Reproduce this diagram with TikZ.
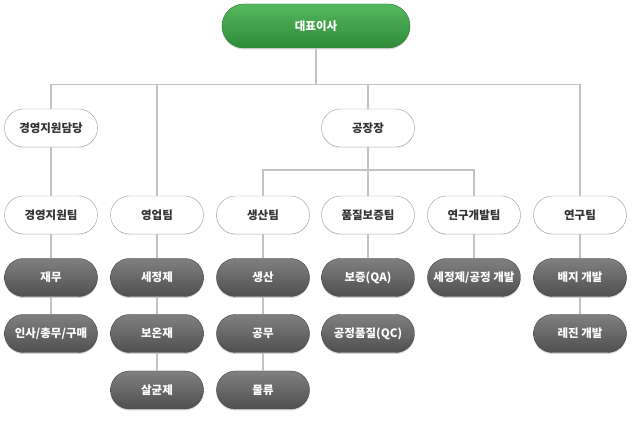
\documentclass[tikz,border=0pt]{standalone}
\usepackage{fontspec}
\setmainfont{Noto Sans CJK KR}
\usetikzlibrary{positioning,shadows}
\definecolor{lineclr}{HTML}{C2C2C2}
\definecolor{edgeclr}{HTML}{9C9C9C}
\definecolor{inkclr}{HTML}{333333}
\definecolor{greentop}{HTML}{55B85E}
\definecolor{greenbot}{HTML}{2E8A38}
\definecolor{darktop}{HTML}{808080}
\definecolor{darkbot}{HTML}{4F4F4F}

\begin{document}
\begin{tikzpicture}[x=1pt, y=-1pt,
  box/.style={rectangle, rounded corners=19pt, minimum width=93pt,
    minimum height=38pt, inner sep=0pt,
    font=\fontsize{11.5}{13}\selectfont\bfseries},
  headbox/.style={box, minimum width=188pt, minimum height=44pt,
    rounded corners=22pt, draw=greenbot!85!black, top color=greentop,
    bottom color=greenbot, text=white,
    drop shadow={shadow xshift=0pt, shadow yshift=-1.5pt, opacity=0.3}},
  deptbox/.style={box, draw=edgeclr, fill=white, text=inkclr,
    drop shadow={shadow xshift=0pt, shadow yshift=-1pt, opacity=0.15}},
  unitbox/.style={box, draw=darkbot!85!black, top color=darktop,
    bottom color=darkbot, text=white,
    drop shadow={shadow xshift=0pt, shadow yshift=-1.5pt, opacity=0.35}},
  link/.style={lineclr, line width=1.2pt}]

\useasboundingbox (0,0) rectangle (635,427);

% --- top --------------------------------------------------------------------
\node[headbox] (ceo) at (316,26) {대표이사};
\node[deptbox] (mgmt) at (51,128) {경영지원담당};
\node[deptbox] (plant) at (368,128) {공장장};

% --- teams ------------------------------------------------------------------
\node[deptbox] (mteam) at (51,215) {경영지원팀};
\node[deptbox] (sales) at (157,215) {영업팀};
\node[deptbox] (prod) at (263,215) {생산팀};
\node[deptbox] (qa) at (368,215) {품질보증팀};
\node[deptbox] (rnd) at (474,215) {연구개발팀};
\node[deptbox] (res) at (580,215) {연구팀};

% --- units ------------------------------------------------------------------
\node[unitbox] (fin) at (51,277.5) {재무};
\node[unitbox] (hr) at (51,333.5) {인사/총무/구매};
\node[unitbox] (clean) at (157,277.5) {세정제};
\node[unitbox] (warm) at (157,333.5) {보온재};
\node[unitbox] (steril) at (157,390) {살균제};
\node[unitbox] (make) at (263,277.5) {생산};
\node[unitbox] (works) at (263,333.5) {공무};
\node[unitbox] (logi) at (263,390) {물류};
\node[unitbox] (assure) at (368,277.5) {보증(QA)};
\node[unitbox] (qc) at (368,333.5) {공정품질(QC)};
\node[unitbox] (dev) at (474,277.5) {세정제/공정 개발};
\node[unitbox] (medium) at (580,277.5) {배지 개발};
\node[unitbox] (resin) at (580,333.5) {레진 개발};

% --- connectors -------------------------------------------------------------
\coordinate (bus) at (0,84.5);
\coordinate (subbus) at (0,170);
\draw[link] (ceo.south) -- (ceo.south |- bus);
\draw[link] (mgmt.north) |- (res.north |- bus) -- (res.north);
\draw[link] (sales.north) -- (sales.north |- bus);
\draw[link] (plant.north) -- (plant.north |- bus);
\draw[link] (prod.north) |- (rnd.north |- subbus) -- (rnd.north);
\draw[link] (plant) -- (qa);
\draw[link] (mgmt) -- (mteam);
\draw[link] (mteam) -- (fin);
\draw[link] (fin) -- (hr);
\draw[link] (sales) -- (clean);
\draw[link] (clean) -- (warm);
\draw[link] (warm) -- (steril);
\draw[link] (prod) -- (make);
\draw[link] (make) -- (works);
\draw[link] (works) -- (logi);
\draw[link] (qa) -- (assure);
\draw[link] (rnd) -- (dev);
\draw[link] (res) -- (medium);
\draw[link] (medium) -- (resin);

\end{tikzpicture}
\end{document}
